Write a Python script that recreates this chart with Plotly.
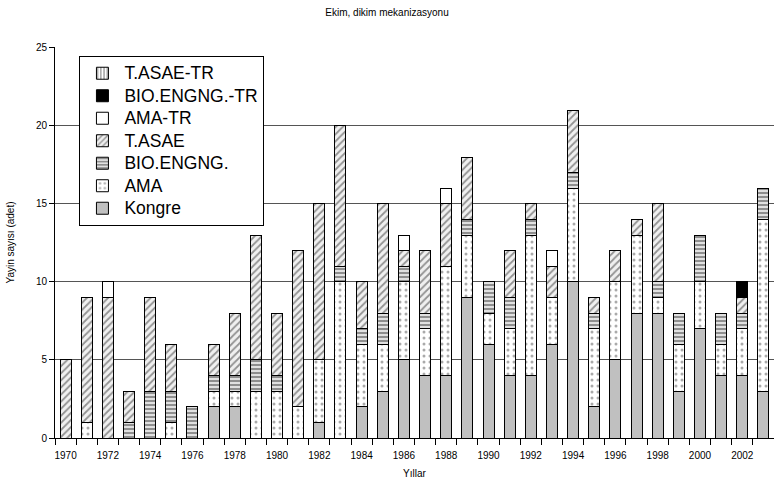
import plotly.graph_objects as go

years = [str(y) for y in range(1970, 2004)]

kongre     = [0,0,0,0,0,0,0,2,2,0,0,0,1,0,2,3,5,4,4,9,6,4,4,6,10,2,5,8,8,3,7,4,4,3]
ama        = [0,1,0,0,0,1,0,1,1,3,3,2,4,10,4,3,5,3,7,4,2,3,9,3,6,5,5,5,1,3,3,2,3,11]
bio        = [0,0,0,1,3,2,2,1,1,2,1,0,0,1,1,2,1,1,0,1,2,2,1,0,1,1,0,0,1,2,3,2,1,2]
tasae      = [5,8,9,2,6,3,0,2,4,8,4,10,10,9,3,7,1,4,4,4,0,3,1,2,4,1,2,1,5,0,0,0,1,0]
ama_tr     = [0,0,1,0,0,0,0,0,0,0,0,0,0,0,0,0,1,0,1,0,0,0,0,1,0,0,0,0,0,0,0,0,0,0]
bio_tr     = [0,0,0,0,0,0,0,0,0,0,0,0,0,0,0,0,0,0,0,0,0,0,0,0,0,0,0,0,0,0,0,0,1,0]
tasae_tr   = [0]*34

series = [
    ("Kongre", kongre, dict(color="#c0c0c0")),
    ("AMA", ama, dict(color="white", pattern=dict(shape=".", fgcolor="#555555", bgcolor="white", size=6, solidity=0.2))),
    ("BIO.ENGNG.", bio, dict(color="white", pattern=dict(shape="-", fgcolor="#2a2a2a", bgcolor="#e0e0e0", size=4, solidity=0.45))),
    ("T.ASAE", tasae, dict(color="white", pattern=dict(shape="/", fgcolor="#333333", bgcolor="#f0f0f0", size=5, solidity=0.35))),
    ("AMA-TR", ama_tr, dict(color="white")),
    ("BIO.ENGNG.-TR", bio_tr, dict(color="black")),
    ("T.ASAE-TR", tasae_tr, dict(color="white", pattern=dict(shape="|", fgcolor="#333333", bgcolor="white", size=4, solidity=0.4))),
]

fig = go.Figure()
for name, vals, mk in series:
    mk = dict(mk)
    mk["line"] = dict(color="black", width=1)
    fig.add_trace(go.Bar(x=years, y=vals, marker=mk,
                         name='<span style="font-size:17.5px">' + name + '</span>'))

ticktext = [y if int(y) % 2 == 0 else "" for y in years]

fig.update_layout(
    barmode="stack",
    bargap=0.48,
    width=774, height=485,
    margin=dict(l=55, r=0, t=47, b=47),
    paper_bgcolor="white", plot_bgcolor="white",
    font=dict(family="Liberation Sans, Arial, sans-serif", size=10, color="black"),
    title=dict(text="Ekim, dikim mekanizasyonu", x=0.5, xref="container", y=0.975, yanchor="middle",
               font=dict(size=10, color="black")),
    legend=dict(traceorder="reversed", x=0.034, y=0.977, xanchor="left", yanchor="top",
                bordercolor="black", borderwidth=1, bgcolor="white",
                font=dict(size=15, color="black"), tracegroupgap=0, itemwidth=34),
    showlegend=True,
)
fig.update_xaxes(
    type="category", tickvals=years, ticktext=ticktext, tickson="boundaries", tickangle=0,
    ticks="outside", ticklen=6, tickcolor="black", showline=True, linecolor="black", linewidth=1,
    title=dict(text="Yıllar", font=dict(size=10), standoff=9), tickfont=dict(size=10),
    ticklabelstandoff=8, showgrid=False, automargin=False,
)
fig.update_yaxes(
    range=[0, 25.05], tickvals=[0, 5, 10, 15, 20, 25], ticks="outside", ticklen=5, tickcolor="black",
    showline=True, linecolor="black", linewidth=1, showgrid=True, gridcolor="#555555", gridwidth=1,
    title=dict(text="Yayin sayısı (adet)", font=dict(size=10), standoff=19), tickfont=dict(size=10),
    zeroline=False, automargin=False,
)

fig.write_html("out.html", config={"displayModeBar": False},
               post_script="document.body.style.margin='0';document.body.style.padding='0';")
